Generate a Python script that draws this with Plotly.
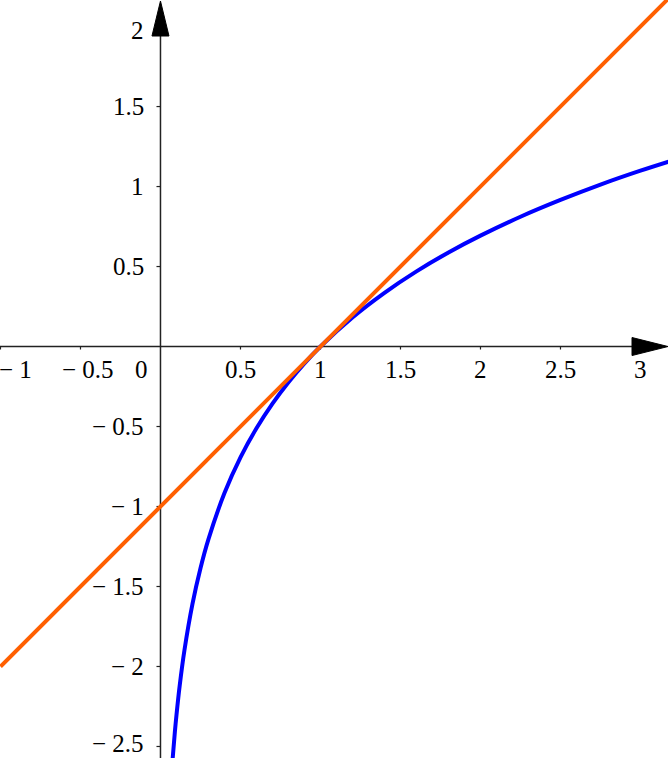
import plotly.graph_objects as go

# ---- data ----
curve_x = [0.076, 0.09, 0.1, 0.12, 0.15, 0.2, 0.25, 0.3, 0.4, 0.5, 0.6, 0.7, 0.8, 0.9,
           1.0, 1.2, 1.4, 1.6, 1.8, 2.0, 2.25, 2.5, 2.75, 3.0, 3.2]
curve_y = [-2.577, -2.408, -2.303, -2.120, -1.897, -1.609, -1.386, -1.204, -0.916, -0.693,
           -0.511, -0.357, -0.223, -0.105, 0.0, 0.182, 0.336, 0.470, 0.588, 0.693, 0.811,
           0.916, 1.012, 1.099, 1.163]
tangent_x = [-1.0, 3.2]
tangent_y = [-2.0, 2.2]

x_ticks = [-1, -0.5, 0.5, 1, 1.5, 2, 2.5, 3]
x_tick_text = ["− 1", "− 0.5", "0.5", "1", "1.5", "2", "2.5", "3"]
y_ticks = [-2.5, -2, -1.5, -1, -0.5, 0.5, 1, 1.5, 2]
y_tick_text = ["− 2.5", "− 2", "− 1.5", "− 1", "− 0.5", "0.5", "1", "1.5", "2"]
origin_text = "0"

X_RANGE = [-1.003, 3.172]
Y_RANGE = [-2.572, 2.166]

FONT = dict(family="Liberation Serif", size=25, color="#000000")
AXIS_COLOR = "#222222"

fig = go.Figure()
fig.add_trace(go.Scatter(x=curve_x, y=curve_y, mode="lines",
                         line=dict(color="#0000FF", width=4, shape="spline"),
                         hoverinfo="skip"))
fig.add_trace(go.Scatter(x=tangent_x, y=tangent_y, mode="lines",
                         line=dict(color="#FF5F00", width=4),
                         hoverinfo="skip"))

shapes = []
# axis lines
shapes.append(dict(type="line", xref="x", yref="y", x0=X_RANGE[0], x1=X_RANGE[1] - 0.1, y0=0, y1=0,
                   line=dict(color=AXIS_COLOR, width=1.5), layer="below"))
shapes.append(dict(type="line", xref="x", yref="y", x0=0, x1=0, y0=Y_RANGE[0], y1=Y_RANGE[1] - 0.1,
                   line=dict(color=AXIS_COLOR, width=1.5), layer="below"))
# arrow heads (pixel sized)
shapes.append(dict(type="path", xref="x", yref="y", xsizemode="pixel", ysizemode="pixel",
                   xanchor=X_RANGE[1], yanchor=0, path="M-36,-9 L0,0 L-36,9 Z",
                   fillcolor="#000000", line=dict(color="#000000", width=1)))
shapes.append(dict(type="path", xref="x", yref="y", xsizemode="pixel", ysizemode="pixel",
                   xanchor=0, yanchor=Y_RANGE[1], path="M-8.5,-36 L0,-1 L8.5,-36 Z",
                   fillcolor="#000000", line=dict(color="#000000", width=1)))
# tick marks
for v in x_ticks:
    shapes.append(dict(type="line", xref="x", yref="y", ysizemode="pixel", yanchor=0,
                       x0=v, x1=v, y0=-3, y1=0, line=dict(color=AXIS_COLOR, width=1.2), layer="below"))
for v in y_ticks:
    shapes.append(dict(type="line", xref="x", yref="y", xsizemode="pixel", xanchor=0,
                       y0=v, y1=v, x0=-4, x1=0, line=dict(color=AXIS_COLOR, width=1.2), layer="below"))

annotations = []
for v, t in zip(x_ticks, x_tick_text):
    shift = 0
    if v == -1:
        shift = 15
    elif v < 0:
        shift = 8
    annotations.append(dict(x=v, y=0, xref="x", yref="y", text=t, showarrow=False,
                            xanchor="center", yanchor="middle", xshift=shift, yshift=-23,
                            font=FONT))
annotations.append(dict(x=0, y=0, xref="x", yref="y", text=origin_text, showarrow=False,
                        xanchor="center", yanchor="middle", xshift=-19, yshift=-23, font=FONT))
for v, t in zip(y_ticks, y_tick_text):
    ys = 0
    if v == 2:
        ys = -4
    elif v == -2.5:
        ys = 3
    annotations.append(dict(x=0, y=v, xref="x", yref="y", text=t, showarrow=False,
                            xanchor="right", yanchor="middle", xshift=-14,
                            yshift=ys, font=FONT))

fig.update_layout(
    width=668, height=758,
    margin=dict(l=0, r=0, t=0, b=0),
    paper_bgcolor="white", plot_bgcolor="white",
    showlegend=False,
    xaxis=dict(range=X_RANGE, visible=False, fixedrange=True),
    yaxis=dict(range=Y_RANGE, visible=False, fixedrange=True),
    shapes=shapes, annotations=annotations,
)

fig.write_html("out.html", config={"displayModeBar": False},
               post_script="document.body.style.margin='0';document.body.style.overflow='hidden';")
